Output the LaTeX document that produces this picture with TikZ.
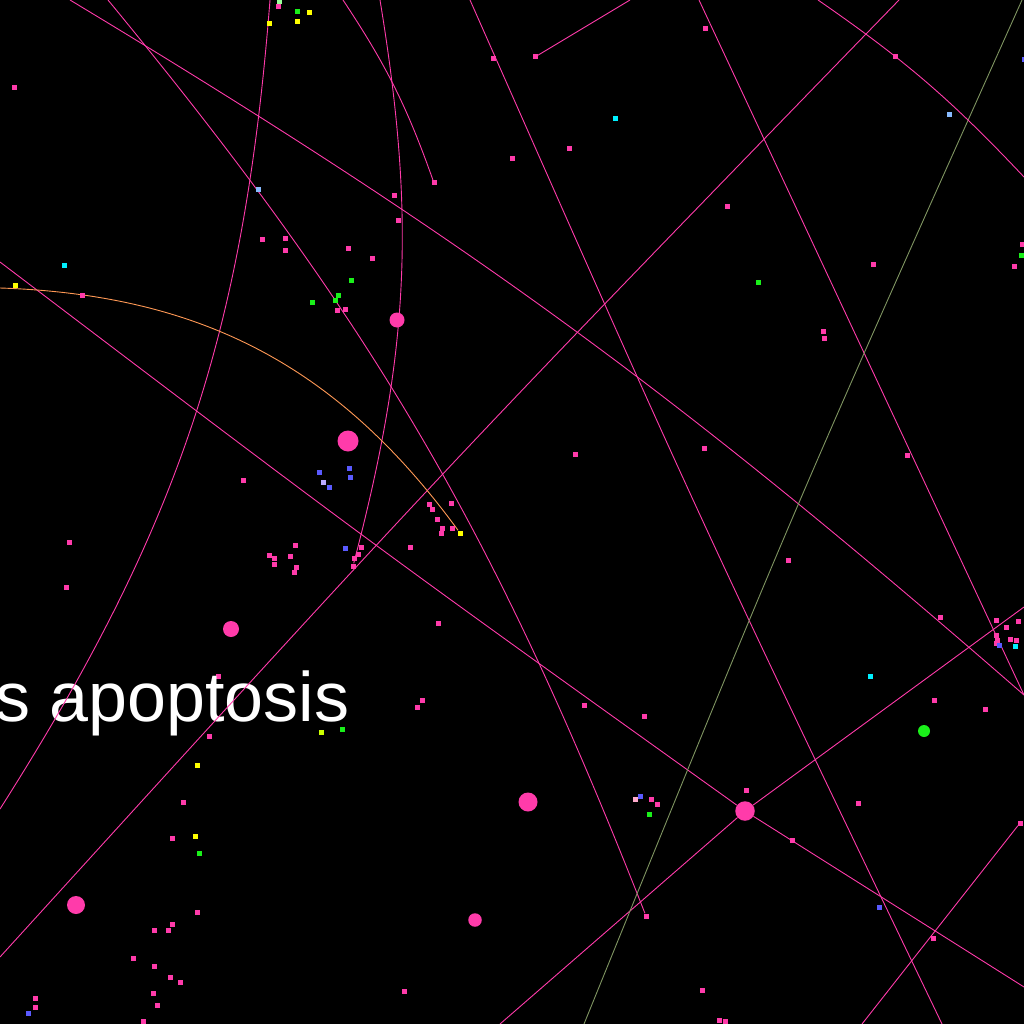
\documentclass[tikz,border=0pt]{standalone}
\usepackage{fontspec}
\setmainfont{Liberation Sans}
\usepackage{xcolor}
\definecolor{NetPink}{HTML}{FF3BAA}
\definecolor{NetOlive}{HTML}{7F9461}
\definecolor{NetOrange}{HTML}{FF9955}
\definecolor{NetGreen}{HTML}{1AF01A}
\definecolor{NetYellow}{HTML}{FFFF00}
\definecolor{NetBlue}{HTML}{5A5AFF}
\definecolor{NetLavender}{HTML}{BBAAFF}
\definecolor{NetCyan}{HTML}{00F0FF}
\definecolor{NetSky}{HTML}{88BBFF}
\definecolor{NetMint}{HTML}{99FF99}
\definecolor{NetLime}{HTML}{CCFF00}
\definecolor{NetRose}{HTML}{FFAACC}
\pgfdeclarelayer{bg}
\pgfdeclarelayer{words}
\pgfdeclarelayer{edges}
\pgfsetlayers{bg,words,edges,main}

\begin{document}
\begin{tikzpicture}[
    x=1pt, y=-1pt,
    dot/.style={rectangle, inner sep=0pt, minimum size=5pt, fill=#1},
    dot/.default=NetPink,
    hub/.style={circle, inner sep=0pt, minimum size=#1, fill=NetPink},
    link/.style={draw=NetPink, line width=0.9pt},
    caption/.style={text=white, inner sep=0pt, font=\fontsize{70}{84}\selectfont}
  ]
    \useasboundingbox (0,0) rectangle (1024,1024);
    \begin{pgfonlayer}{bg}
      \fill[black] (0,0) rectangle (1024,1024);
      \node[dot] (hidden) at (218,676) {};
    \end{pgfonlayer}
    \begin{pgfonlayer}{words}
      \node[caption, anchor=base west] (label) at (-5,721) {s apoptosis};
    \end{pgfonlayer}

    % large nodes
    \node[hub=15pt] (hubA) at (397,320) {};
    \node[hub=21pt] (hubB) at (348,441) {};
    \node[hub=16pt] (hubC) at (231,629) {};
    \node[hub=18pt] (hubD) at (76,905) {};
    \node[hub=19pt] (hubE) at (528,802) {};
    \node[hub=13.5pt] (hubF) at (475,920) {};
    \node[hub=19.5pt] (hubG) at (745,811) {};
    \node[hub=12pt, fill=NetGreen] (hubH) at (924,731) {};

    % small nodes that edges end on
    \node[dot] (tipA) at (434,183) {};
    \node[dot] (tipB) at (646,916) {};
    \node[dot] (tipC) at (353,566) {};
    \node[dot] (tipD) at (535,57) {};
    \node[dot] (tipE) at (1020,823) {};
    \node[dot=NetYellow] (tipF) at (460,533) {};

    % scattered small nodes
    \foreach \x/\y [count=\i] in {278/7, 493/59, 14/88, 512/159, 394/196, 398/221, 262/239, 285/238,
        285/250, 348/248, 372/258, 337/310, 345/309, 82/295, 243/480, 429/504, 432/509, 451/503,
        705/29, 895/57, 569/149, 727/207, 873/264, 823/331, 824/338, 1022/244, 1014/266, 575/454,
        704/448, 907/455, 69/542, 66/587, 295/545, 269/555, 274/558, 274/564, 290/556, 296/567,
        294/572, 361/547, 358/554, 354/558, 410/547, 437/519, 442/528, 441/533, 452/528, 438/623,
        422/700, 417/707, 209/736, 183/802, 172/838, 197/912, 172/924, 154/930, 168/930, 133/958,
        154/966, 170/977, 180/982, 153/993, 404/991, 35/998, 35/1007, 157/1005, 143/1021,
        788/560, 940/617, 996/620, 1006/627, 1018/621, 996/635, 997/640, 996/643, 1010/639,
        1016/640, 934/700, 985/709, 584/705, 644/716, 651/799, 657/804, 746/790, 858/803, 792/840,
        933/938, 702/990, 719/1020, 725/1021}
      \node[dot] (pk\i) at (\x,\y) {};
    \foreach \x/\y [count=\i] in {297/12, 351/280, 338/295, 312/302, 335/300, 758/282, 1021/255,
        342/729, 199/853, 649/814}
      \node[dot=NetGreen] (gr\i) at (\x,\y) {};
    \foreach \x/\y [count=\i] in {309/13, 269/24, 297/22, 15/285, 197/765, 195/836}
      \node[dot=NetYellow] (ye\i) at (\x,\y) {};
    \foreach \x/\y [count=\i] in {1024/60, 319/472, 349/468, 350/477, 329/487, 345/548, 28/1013,
        999/645, 640/796, 879/907}
      \node[dot=NetBlue] (bl\i) at (\x,\y) {};
    \foreach \x/\y [count=\i] in {64/265, 615/119, 1015/646, 870/676}
      \node[dot=NetCyan] (cy\i) at (\x,\y) {};
    \foreach \x/\y [count=\i] in {258/190, 949/115}
      \node[dot=NetSky] (sk\i) at (\x,\y) {};
    \node[dot=NetMint] (mint) at (279,2) {};
    \node[dot=NetLime] (lime) at (321,732) {};
    \node[dot=NetLavender] (lav) at (323,482) {};
    \node[dot=NetRose] (rose) at (635,799) {};

    % loose ends outside the frame
    \coordinate (e1s) at (70,0);    \coordinate (e1t) at (1024,695);
    \coordinate (e2s) at (108,0);
    \coordinate (e3s) at (270,0);   \coordinate (e3t) at (0,809);
    \coordinate (e4s) at (380,0);
    \coordinate (e5s) at (343,0);
    \coordinate (e6s) at (470,0);   \coordinate (e6t) at (942,1024);
    \coordinate (e7s) at (699,0);   \coordinate (e7t) at (1024,695);
    \coordinate (e8s) at (0,957);   \coordinate (e8t) at (899,0);
    \coordinate (e9s) at (0,262);   \coordinate (e9t) at (1024,987);
    \coordinate (e10t) at (1024,607); \coordinate (e10s) at (500,1024);
    \coordinate (e11s) at (1022,0); \coordinate (e11t) at (584,1024);
    \coordinate (e12s) at (818,0);  \coordinate (e12t) at (1024,177);
    \coordinate (e13t) at (630,0);
    \coordinate (e14t) at (862,1024);
    \coordinate (e15s) at (0,288);

    \begin{pgfonlayer}{edges}
      \draw[link] (e1s) to[bend left=5] (e1t);
      \draw[link] (e2s) to[bend left=9] (tipB);
      \draw[link] (e3s) to[bend left=14] (e3t);
      \draw[link] (e4s) to[bend left=12] (tipC);
      \draw[link] (e5s) to[bend left=7] (tipA);
      \draw[link] (e6s) .. controls (698,516) .. (e6t);
      \draw[link] (e7s) -- (e7t);
      \draw[link] (e8s) .. controls (442,471) .. (e8t);
      \draw[link] (e9s) .. controls (369,542) .. (hubG);
      \draw[link] (hubG) -- (e9t);
      \draw[link] (hubG) -- (e10t);
      \draw[link] (hubG) -- (e10s);
      \draw[link, draw=NetOlive] (e11s) .. controls (794,508) .. (e11t);
      \draw[link] (e12s) to[bend left=6] (e12t);
      \draw[link] (tipD) -- (e13t);
      \draw[link] (tipE) -- (e14t);
      \draw[link, draw=NetOrange] (e15s) to[bend left=26] (tipF);
    \end{pgfonlayer}
\end{tikzpicture}
\end{document}
